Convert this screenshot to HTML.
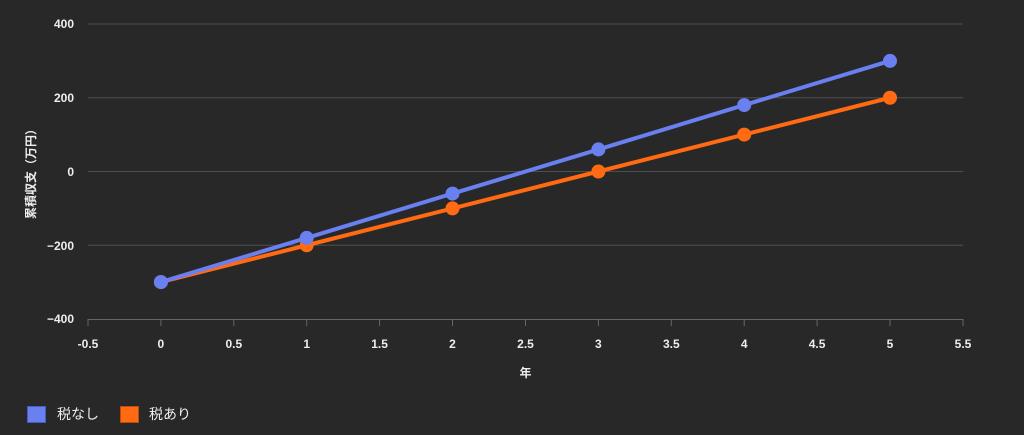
<!DOCTYPE html>
<html><head><meta charset="utf-8"><style>
html,body{margin:0;padding:0;background:#282828;}
svg{display:block;font-family:"Liberation Sans","Noto Sans CJK JP",sans-serif;}
</style></head><body>
<svg width="1024" height="435" viewBox="0 0 1024 435">
<rect width="1024" height="435" fill="#282828"/>
<g stroke="#4e4e4e" stroke-width="1">
<line x1="88" x2="963" y1="24" y2="24"/>
<line x1="88" x2="963" y1="97.75" y2="97.75"/>
<line x1="88" x2="963" y1="171.5" y2="171.5"/>
<line x1="88" x2="963" y1="245.25" y2="245.25"/>
</g>
<g stroke="#666" stroke-width="1">
<line x1="88" x2="963" y1="319.5" y2="319.5"/>
<line x1="88" x2="88" y1="319" y2="326"/>
<line x1="160.9" x2="160.9" y1="319" y2="326"/>
<line x1="233.8" x2="233.8" y1="319" y2="326"/>
<line x1="306.7" x2="306.7" y1="319" y2="326"/>
<line x1="379.6" x2="379.6" y1="319" y2="326"/>
<line x1="452.5" x2="452.5" y1="319" y2="326"/>
<line x1="525.5" x2="525.5" y1="319" y2="326"/>
<line x1="598.4" x2="598.4" y1="319" y2="326"/>
<line x1="671.3" x2="671.3" y1="319" y2="326"/>
<line x1="744.2" x2="744.2" y1="319" y2="326"/>
<line x1="817.1" x2="817.1" y1="319" y2="326"/>
<line x1="890" x2="890" y1="319" y2="326"/>
<line x1="963" x2="963" y1="319" y2="326"/>
</g>
<g fill="#eee" font-size="12" font-weight="bold" text-anchor="end">
<text x="74" y="28">400</text>
<text x="74" y="102">200</text>
<text x="74" y="176">0</text>
<text x="74" y="250">−200</text>
<text x="74" y="323">−400</text>
</g>
<g fill="#eee" font-size="12" font-weight="bold" text-anchor="middle">
<text x="88" y="348">-0.5</text>
<text x="160.9" y="348">0</text>
<text x="233.8" y="348">0.5</text>
<text x="306.7" y="348">1</text>
<text x="379.6" y="348">1.5</text>
<text x="452.5" y="348">2</text>
<text x="525.5" y="348">2.5</text>
<text x="598.4" y="348">3</text>
<text x="671.3" y="348">3.5</text>
<text x="744.2" y="348">4</text>
<text x="817.1" y="348">4.5</text>
<text x="890" y="348">5</text>
<text x="963" y="348">5.5</text>
<text x="525.5" y="377">年</text>
<text transform="translate(35,171) rotate(-90)">累積収支（万円）</text>
</g>
<polyline fill="none" stroke="#ff6a13" stroke-width="4" points="160.9,282.1 306.7,245.25 452.5,208.4 598.4,171.5 744.2,134.6 890,97.75"/>
<g fill="#ff6a13">
<circle cx="160.9" cy="282.1" r="7"/><circle cx="306.7" cy="245.25" r="7"/><circle cx="452.5" cy="208.4" r="7"/><circle cx="598.4" cy="171.5" r="7"/><circle cx="744.2" cy="134.6" r="7"/><circle cx="890" cy="97.75" r="7"/>
</g>
<polyline fill="none" stroke="#6a7ff0" stroke-width="4" points="160.9,282.1 306.7,237.9 452.5,193.6 598.4,149.4 744.2,105.1 890,60.9"/>
<g fill="#6a7ff0">
<circle cx="160.9" cy="282.1" r="7"/><circle cx="306.7" cy="237.9" r="7"/><circle cx="452.5" cy="193.6" r="7"/><circle cx="598.4" cy="149.4" r="7"/><circle cx="744.2" cy="105.1" r="7"/><circle cx="890" cy="60.9" r="7"/>
</g>
<rect x="27.5" y="406.5" width="18" height="16" fill="#6a7ff0" stroke="#4a5cc0"/>
<text x="57" y="419" fill="#eee" font-size="14">税なし</text>
<rect x="120.5" y="406.5" width="18" height="16" fill="#ff6a13" stroke="#c04a0a"/>
<text x="149" y="419" fill="#eee" font-size="14">税あり</text>
</svg>
</body></html>
